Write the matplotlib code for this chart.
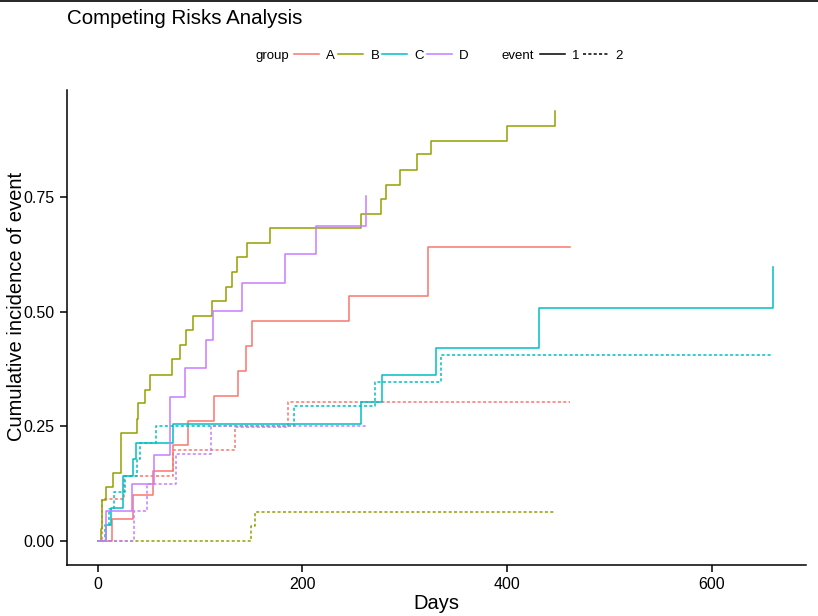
import matplotlib
matplotlib.use('Agg')
import matplotlib.pyplot as plt
from matplotlib.lines import Line2D

plt.rcParams['font.family'] = ['Liberation Sans', 'DejaVu Sans']

# Colours (ggplot hue palette)
group_colors = {'A': '#F8766D', 'B': '#93A100', 'C': '#00BFC4', 'D': '#C77CFF'}
groups = ['A', 'B', 'C', 'D']
events = ['1', '2']

# Cumulative incidence curves (time in days)
A1_t = [0, 14.3, 34.8, 53.7, 73.4, 88.3, 113.5, 136.9, 144.7, 150.7, 245.2, 323.2, 462]
A1_v = [0, 0.048, 0.099, 0.152, 0.208, 0.262, 0.316, 0.371, 0.425, 0.480, 0.534, 0.642, 0.642]
A2_t = [0, 4.6, 25.9, 73.5, 134.0, 185.9, 462]
A2_v = [0, 0.091, 0.142, 0.197, 0.248, 0.304, 0.304]

B1_t = [0, 2.9, 4.6, 7.8, 15.3, 22.4, 38.3, 39.3, 46.1, 51.0, 72.5, 80.3, 86.1, 93.4,
        111.9, 125.2, 131.0, 135.9, 145.7, 168.1, 257.3, 276.8, 281.3, 295.9, 312.5,
        326.1, 400.3, 446.5]
B1_v = [0, 0.026, 0.088, 0.117, 0.147, 0.236, 0.265, 0.300, 0.330, 0.363, 0.396, 0.428,
        0.461, 0.491, 0.524, 0.554, 0.587, 0.620, 0.651, 0.684, 0.714, 0.747, 0.778,
        0.811, 0.844, 0.874, 0.907, 0.938]
B2_t = [0, 149.6, 153.2, 446.5]
B2_v = [0, 0.032, 0.063, 0.063]

C1_t = [0, 8.5, 12.7, 24.7, 34.8, 37.8, 73.5, 257.3, 278.3, 331.0, 431.5, 659.8]
C1_v = [0, 0.034, 0.071, 0.141, 0.178, 0.214, 0.254, 0.304, 0.361, 0.420, 0.508, 0.598]
C2_t = [0, 7.1, 10.7, 15.9, 26.3, 38.0, 41.5, 57.3, 191.5, 270.5, 335.9, 659.8]
C2_v = [0, 0.034, 0.070, 0.106, 0.141, 0.178, 0.214, 0.250, 0.295, 0.346, 0.405, 0.405]

D1_t = [0, 7.8, 33.0, 55.4, 70.5, 85.4, 105.7, 112.7, 140.8, 182.7, 213.0, 261.8]
D1_v = [0, 0.064, 0.124, 0.188, 0.313, 0.377, 0.439, 0.502, 0.563, 0.627, 0.688, 0.753]
D2_t = [0, 35.4, 48.1, 76.1, 110.7, 261.8]
D2_v = [0, 0.064, 0.124, 0.189, 0.250, 0.250]

curves = {
    ('A', '1'): (A1_t, A1_v), ('A', '2'): (A2_t, A2_v),
    ('B', '1'): (B1_t, B1_v), ('B', '2'): (B2_t, B2_v),
    ('C', '1'): (C1_t, C1_v), ('C', '2'): (C2_t, C2_v),
    ('D', '1'): (D1_t, D1_v), ('D', '2'): (D2_t, D2_v),
}

x_ticks = [0, 200, 400, 600]
y_ticks = [0, 0.25, 0.50, 0.75]
y_tick_labels = ['0.00', '0.25', '0.50', '0.75']

line_styles = {'1': '-', '2': (0, (2, 1.5))}
lw = 1.1

fig = plt.figure(figsize=(8.18, 6.16), dpi=100)
ax = fig.add_axes([0.082, 0.083, 0.903, 0.771])

for (g, e), (t, v) in curves.items():
    ax.step(t, v, where='post', color=group_colors[g], linestyle=line_styles[e], linewidth=lw)

ax.set_xlim(-30, 692)
ax.set_ylim(-0.053, 0.985)
ax.set_xticks(x_ticks)
ax.set_yticks(y_ticks)
ax.set_yticklabels(y_tick_labels)
ax.tick_params(axis='both', labelsize=11.5, length=5, width=1.1, color='black', labelcolor='black')
ax.tick_params(axis='x', pad=4)
ax.tick_params(axis='y', pad=4)
for side in ['top', 'right']:
    ax.spines[side].set_visible(False)
for side in ['left', 'bottom']:
    ax.spines[side].set_linewidth(1.1)

ax.set_xlabel('Days', fontsize=14.5, labelpad=1)
ax.set_ylabel('Cumulative incidence of event', fontsize=14.5)
# anchor is the right edge of the rotated label
ax.yaxis.set_label_coords(-0.056, 0.545)

fig.text(67 / 818, 1 - 18 / 616, 'Competing Risks Analysis', fontsize=14.8,
         ha='left', va='center')

# legends on top, ggplot style
leg_y = 1 - 56 / 616
fig.text(256 / 818, leg_y, 'group', fontsize=9.5, ha='left', va='center')
g_handles = [Line2D([], [], color=group_colors[g], linewidth=lw) for g in groups]
leg1 = fig.legend(g_handles, groups, loc='center left', bbox_to_anchor=(294 / 818, leg_y),
                  ncol=4, frameon=False, fontsize=9.5, handlelength=1.9, handletextpad=0.55,
                  columnspacing=0.22, borderaxespad=0, borderpad=0)
fig.text(502 / 818, leg_y, 'event', fontsize=9.5, ha='left', va='center')
e_handles = [Line2D([], [], color='black', linestyle=line_styles[e], linewidth=lw) for e in events]
leg2 = fig.legend(e_handles, events, loc='center left', bbox_to_anchor=(540 / 818, leg_y),
                  ncol=2, frameon=False, fontsize=9.5, handlelength=1.9, handletextpad=0.55,
                  columnspacing=0.22, borderaxespad=0, borderpad=0)

# thin border at very top of the screenshot
fig.add_artist(Line2D([0, 1], [0.999, 0.999], color='black', linewidth=1.2,
                      transform=fig.transFigure))

fig.savefig('out.png', dpi=100)
